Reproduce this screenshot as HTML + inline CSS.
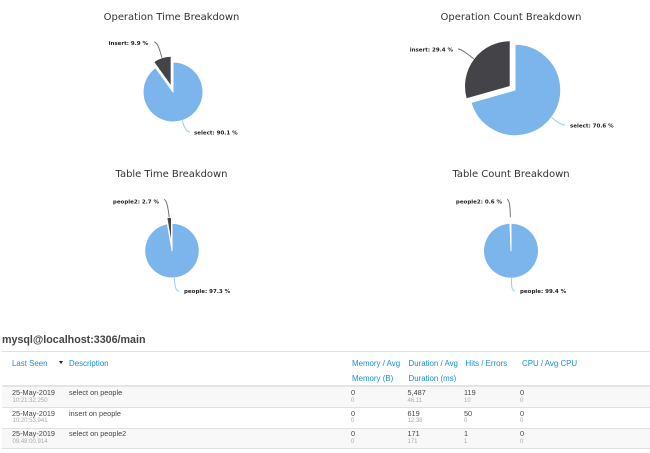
<!DOCTYPE html>
<html lang="en">
<head>
<meta charset="utf-8">
<title>Query breakdown</title>
<style>
html,body{margin:0;padding:0;background:#fff;}
body{width:650px;height:453px;overflow:hidden;position:relative;font-family:"Liberation Sans",sans-serif;}
#charts{position:absolute;left:0;top:0;}
.abs{position:absolute;white-space:nowrap;}
h1{position:absolute;left:2px;top:333px;margin:0;font-size:10.7px;line-height:15px;font-weight:bold;color:#444;white-space:nowrap;}
.hline{position:absolute;left:2px;width:648px;height:1px;background:#e0e0e0;}
.stripe{position:absolute;left:2px;width:648px;background:#f8f8f8;}
.th{position:absolute;font-size:7.9px;line-height:11px;color:#1a8fd1;white-space:nowrap;}
.m{position:absolute;font-size:7.3px;line-height:11px;color:#444;white-space:nowrap;}
.s{position:absolute;font-size:6px;line-height:9px;color:#aaa;white-space:nowrap;}
</style>
</head>
<body>
<svg id="charts" width="650" height="330" xmlns="http://www.w3.org/2000/svg"></svg>

<h1>mysql@localhost:3306/main</h1>
<div class="hline" style="top:351px"></div>
<div class="th" style="left:12px;top:357.5px">Last Seen</div>
<div class="abs" style="left:59px;top:361px;width:0;height:0;border-left:2.5px solid transparent;border-right:2.5px solid transparent;border-top:3px solid #222"></div>
<div class="th" style="left:69px;top:357.5px">Description</div>
<div class="th" style="left:352px;top:357.5px">Memory / Avg</div>
<div class="th" style="left:352px;top:373px">Memory (B)</div>
<div class="th" style="left:408.5px;top:357.5px">Duration / Avg</div>
<div class="th" style="left:408.5px;top:373px">Duration (ms)</div>
<div class="th" style="left:465.5px;top:357.5px">Hits / Errors</div>
<div class="th" style="left:522px;top:357.5px">CPU / Avg CPU</div>
<div class="hline" style="top:385px;height:2px;background:#e4e4e4"></div>

<div class="stripe" style="top:387px;height:20px"></div>
<div class="hline" style="top:407px"></div>
<div class="stripe" style="top:428px;height:20px"></div>
<div class="hline" style="top:428px"></div>
<div class="hline" style="top:448px"></div>

<div class="m" style="left:12px;top:387px">25-May-2019</div>
<div class="s" style="left:12.5px;top:397px">10:21:32.250</div>
<div class="m" style="left:69px;top:387px">select on people</div>
<div class="m" style="left:351px;top:387px">0</div>
<div class="s" style="left:351px;top:397px">0</div>
<div class="m" style="left:407.5px;top:387px">5,487</div>
<div class="s" style="left:407.5px;top:397px">46.11</div>
<div class="m" style="left:464px;top:387px">119</div>
<div class="s" style="left:464px;top:397px">10</div>
<div class="m" style="left:520px;top:387px">0</div>
<div class="s" style="left:520px;top:397px">0</div>

<div class="m" style="left:12px;top:407.5px">25-May-2019</div>
<div class="s" style="left:12.5px;top:417px">10:20:53.941</div>
<div class="m" style="left:69px;top:407.5px">insert on people</div>
<div class="m" style="left:351px;top:407.5px">0</div>
<div class="s" style="left:351px;top:417px">0</div>
<div class="m" style="left:407.5px;top:407.5px">619</div>
<div class="s" style="left:407.5px;top:417px">12.38</div>
<div class="m" style="left:464px;top:407.5px">50</div>
<div class="s" style="left:464px;top:417px">0</div>
<div class="m" style="left:520px;top:407.5px">0</div>
<div class="s" style="left:520px;top:417px">0</div>

<div class="m" style="left:12px;top:427.5px">25-May-2019</div>
<div class="s" style="left:12.5px;top:437.5px">09:48:00.914</div>
<div class="m" style="left:69px;top:427.5px">select on people2</div>
<div class="m" style="left:351px;top:427.5px">0</div>
<div class="s" style="left:351px;top:437.5px">0</div>
<div class="m" style="left:407.5px;top:427.5px">171</div>
<div class="s" style="left:407.5px;top:437.5px">171</div>
<div class="m" style="left:464px;top:427.5px">1</div>
<div class="s" style="left:464px;top:437.5px">1</div>
<div class="m" style="left:520px;top:427.5px">0</div>
<div class="s" style="left:520px;top:437.5px">0</div>

<script>
const operationCategories = ['select', 'insert'];
const tableCategories = ['people', 'people2'];
const operationTimeValues = [90.1, 9.9];
const operationCountValues = [70.6, 29.4];
const tableTimeValues = [97.3, 2.7];
const tableCountValues = [99.4, 0.6];

const sliceColors = ['#7cb5ec', '#434348'];
const svgNS = 'http://www.w3.org/2000/svg';
const svg = document.getElementById('charts');
const slicedOffset = 6;

function make(tag, attrs, parent) {
  const el = document.createElementNS(svgNS, tag);
  Object.keys(attrs).forEach(function (k) { el.setAttribute(k, attrs[k]); });
  parent.appendChild(el);
  return el;
}

function drawPie(layout, categories, values) {
  const group = make('g', {}, svg);
  
  

  const title = make('text', {
    x: layout.titleX, y: layout.titleY, 'text-anchor': 'middle',
    'font-family': '"DejaVu Sans", sans-serif', 'font-size': '10', fill: '#333333',
    'letter-spacing': '-0.03'
  }, group);
  title.textContent = layout.title;
  
  

  const total = values.reduce(function (a, b) { return a + b; }, 0);
  let start = 0;
  values.forEach(function (value, i) {
    const sweep = value / total * 2 * Math.PI;
    const end = start + sweep;
    const mid = start + sweep / 2;
    const off = i === 1 ? slicedOffset : 0;
    const cx = layout.cx + off * Math.sin(mid);
    const cy = layout.cy - off * Math.cos(mid);
    const r = layout.r;
    const x1 = cx + r * Math.sin(start), y1 = cy - r * Math.cos(start);
    const x2 = cx + r * Math.sin(end), y2 = cy - r * Math.cos(end);
    const large = sweep > Math.PI ? 1 : 0;

    const slice = make('path', {
      d: 'M' + cx + ' ' + cy + 'L' + x1 + ' ' + y1 + 'A' + r + ' ' + r + ' 0 ' + large + ' 1 ' + x2 + ' ' + y2 + 'Z',
      fill: sliceColors[i], stroke: '#ffffff', 'stroke-width': '1', 'stroke-linejoin': 'round'
    }, group);
    
    

    const lab = layout.labels[i];
    const ex = cx + r * Math.sin(mid), ey = cy - r * Math.cos(mid);
    const connector = make('path', {
      d: 'M' + lab.lineX + ' ' + lab.lineY + 'C' + (lab.lineX + (lab.bendX || 0)) + ' ' + lab.lineY + ' ' +
         (ex + 6 * Math.sin(mid)) + ' ' + (ey - 6 * Math.cos(mid)) + ' ' + ex + ' ' + ey,
      fill: 'none', stroke: sliceColors[i], 'stroke-width': '1', 'stroke-opacity': '0.75'
    }, group);
    
    

    const label = make('text', {
      x: lab.x, y: lab.y, 'text-anchor': lab.anchor,
      'font-family': '"DejaVu Sans", sans-serif', 'font-size': '5.5', 'font-weight': 'bold', fill: '#222222'
    }, group);
    label.textContent = categories[i] + ': ' + value.toFixed(1) + ' %';
    
    

    start = end;
  });
}

drawPie({
  name: 'operation-time-chart', title: 'Operation Time Breakdown',
  titleX: 171.5, titleY: 20, cx: 173, cy: 92, r: 30,
  labels: [
    { x: 194, y: 134.5, anchor: 'start', lineX: 190, lineY: 132, bendX: -4 },
    { x: 148, y: 45, anchor: 'end', lineX: 154, lineY: 42, bendX: 4 }
  ]
}, operationCategories, operationTimeValues);

drawPie({
  name: 'operation-count-chart', title: 'Operation Count Breakdown',
  titleX: 511, titleY: 20, cx: 515, cy: 90, r: 45.7,
  labels: [
    { x: 570, y: 127.5, anchor: 'start', lineX: 565, lineY: 125, bendX: -4 },
    { x: 453, y: 51.5, anchor: 'end', lineX: 458, lineY: 49, bendX: 4 }
  ]
}, operationCategories, operationCountValues);

drawPie({
  name: 'table-time-chart', title: 'Table Time Breakdown',
  titleX: 171.5, titleY: 177, cx: 172, cy: 250.7, r: 27.3,
  labels: [
    { x: 184, y: 293, anchor: 'start', lineX: 179, lineY: 291, bendX: -4 },
    { x: 159, y: 203.5, anchor: 'end', lineX: 164, lineY: 199.5, bendX: 3 }
  ]
}, tableCategories, tableTimeValues);

drawPie({
  name: 'table-count-chart', title: 'Table Count Breakdown',
  titleX: 511, titleY: 177, cx: 511, cy: 250.7, r: 27.5,
  labels: [
    { x: 520, y: 293, anchor: 'start', lineX: 515, lineY: 291, bendX: -4 },
    { x: 502, y: 203.5, anchor: 'end', lineX: 507, lineY: 199.5, bendX: 3 }
  ]
}, tableCategories, tableCountValues);
</script>
</body>
</html>
